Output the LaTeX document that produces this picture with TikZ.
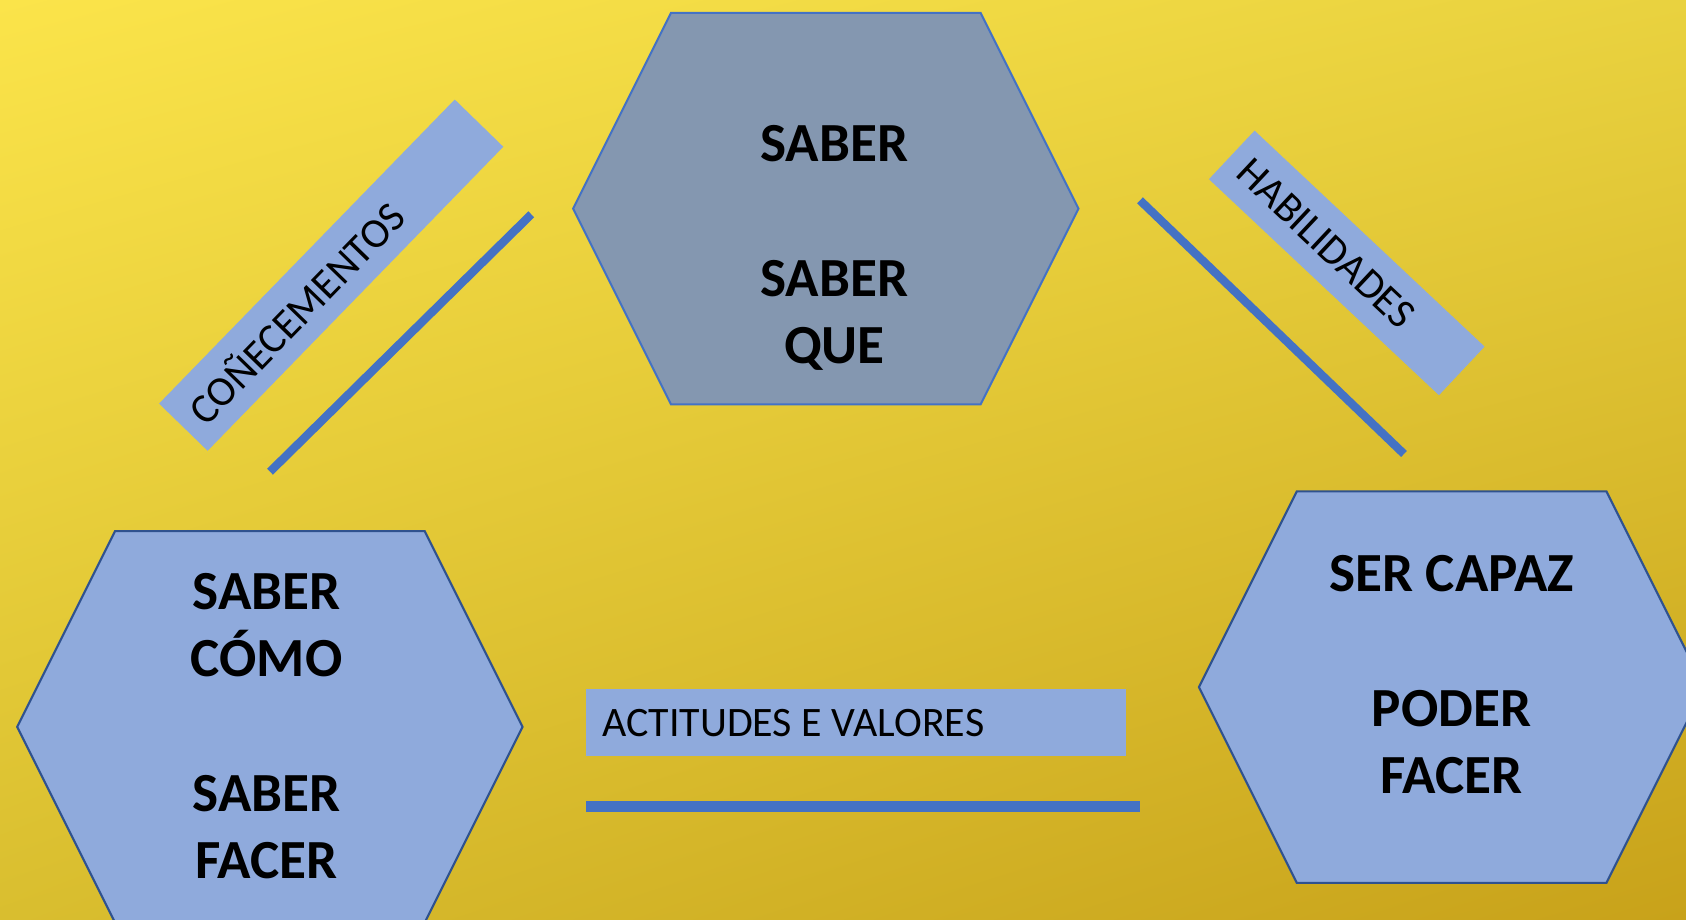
\documentclass[tikz,border=0pt]{standalone}
\usepackage{fontspec}
\usetikzlibrary{shadings}
\setmainfont{Carlito}
\definecolor{bgTL}{HTML}{FBE44A}
\definecolor{bgTR}{HTML}{E9D23F}
\definecolor{bgBL}{HTML}{D9BE2F}
\definecolor{bgBR}{HTML}{C8A21A}
\definecolor{lightblue}{HTML}{8FAADC}
\definecolor{greyblue}{HTML}{8497B0}
\definecolor{accent}{HTML}{4472C4}
\definecolor{darkblue}{HTML}{2F528F}
\tikzset{
  hextop/.style={fill=greyblue, draw=accent, line width=1.1pt, line join=miter},
  hexlow/.style={fill=lightblue, draw=darkblue, line width=1.1pt, line join=miter},
  bigtxt/.style={anchor=base, inner sep=0pt, font=\fontsize{29.2pt}{35pt}\selectfont\bfseries, text=black},
  labbox/.style={fill=lightblue, draw=none, inner xsep=0.3cm, inner ysep=0pt, align=flush left,
                 font=\fontsize{22.2pt}{26pt}\selectfont, text=black},
  bar/.style={draw=accent, line width=0.155cm, line cap=butt}
}
\begin{document}
\begin{tikzpicture}[x=0.02cm, y=-0.02cm]
\useasboundingbox (0,0) rectangle (1568,854.7);
\clip (0,0) rectangle (1568,854.7);
\shade[upper left=bgTL, upper right=bgTR, lower left=bgBL, lower right=bgBR] (0,0) rectangle (1568,854.7);

% hexagons
\draw[hextop] (624,12) -- (912,12) -- (1003,194) -- (912,376) -- (624,376) -- (533,194) -- cycle;
\draw[hexlow] (107,494) -- (395,494) -- (486,676) -- (395,858) -- (107,858) -- (16,676) -- cycle;
\draw[hexlow] (1206,457) -- (1494,457) -- (1585,639) -- (1494,821) -- (1206,821) -- (1115,639) -- cycle;

% top hexagon text
\node[bigtxt] (ta) at (776,150.5) {SABER};
\node[bigtxt] (tb) at (776,275.5) {SABER};
\node[bigtxt] (tc) at (776,338) {QUE};

% bottom-left hexagon text
\node[bigtxt] (la) at (248,566.5) {SABER};
\node[bigtxt] (lb) at (248,629) {CÓMO};
\node[bigtxt] (lc) at (248,755) {SABER};
\node[bigtxt] (ld) at (248,817) {FACER};

% bottom-right hexagon text
\node[bigtxt] (ra) at (1350,550) {SER CAPAZ};
\node[bigtxt] (rb) at (1350,675.5) {PODER};
\node[bigtxt] (rc) at (1350,738) {FACER};

% label boxes
\node[labbox, rotate=45.8, minimum width=7.89cm, minimum height=1.26cm, text width=7.29cm] (con) at (308,255.9) {COÑECEMENTOS};
\node[labbox, rotate=-43.2, minimum width=5.87cm, minimum height=1.24cm, text width=5.27cm] (hab) at (1252.5,244.5) {HABILIDADES};
\node[labbox, minimum width=10.04cm, minimum height=1.24cm, text width=9.44cm] (act) at (796,672) {ACTITUDES E VALORES};

% bars
\coordinate (c1a) at (251.1,438.7);
\coordinate (c1b) at (494.1,199.3);
\coordinate (h1a) at (1060.2,186.3);
\coordinate (h1b) at (1305.7,422.2);
\coordinate (a1a) at (545,750);
\coordinate (a1b) at (1060,750);
\draw[bar] (c1a) -- (c1b);
\draw[bar] (h1a) -- (h1b);
\draw[bar, line width=0.2cm] (a1a) -- (a1b);
\end{tikzpicture}
\end{document}
